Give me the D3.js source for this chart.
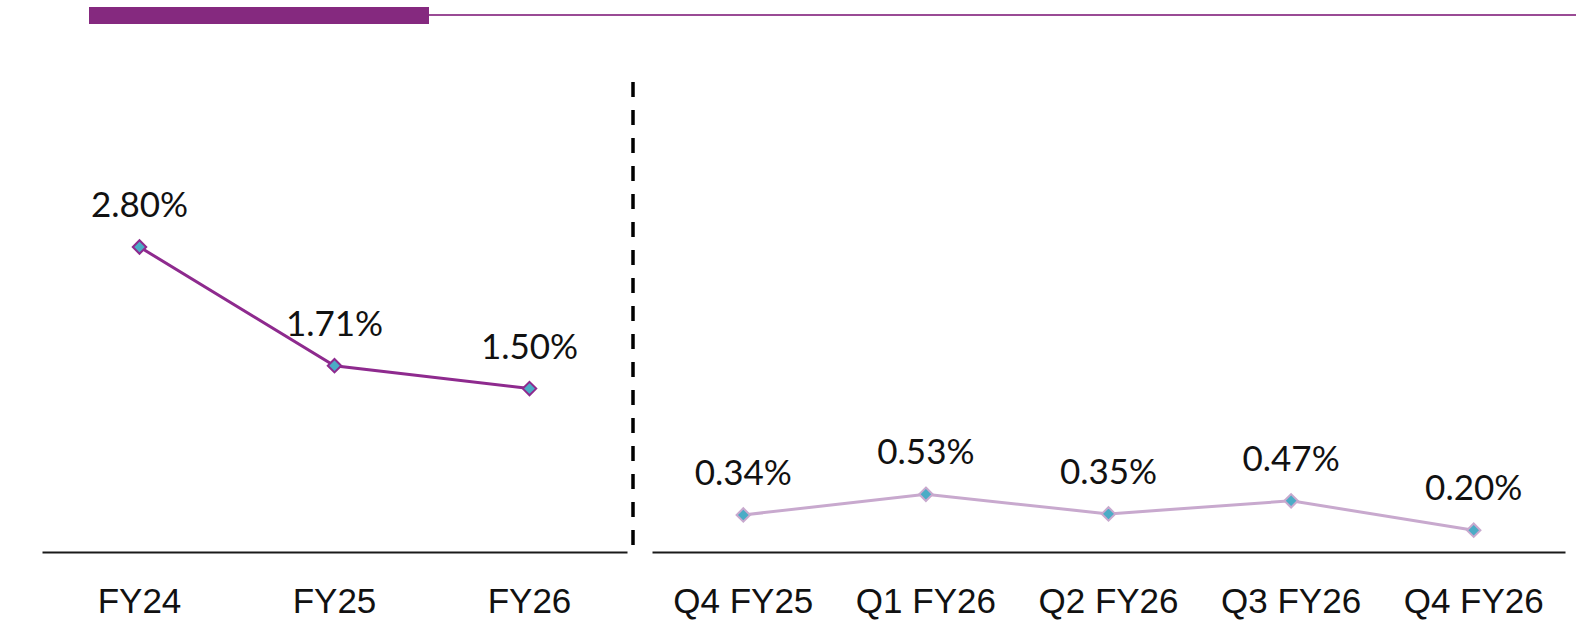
<!DOCTYPE html>
<html>
<head>
<meta charset="utf-8">
<script src="https://cdn.jsdelivr.net/npm/d3@7"></script>
<style>
  html, body { margin: 0; padding: 0; background: #fff; }
  svg { display: block; font-family: Lato, "Open Sans", sans-serif; }
</style>
</head>
<body>
<div id="chart"></div>
<script>
// annual values (left panel)
const yearCats = ["FY24", "FY25", "FY26"];
const yearVals = [2.80, 1.71, 1.50];
const yearLabels = ["2.80%", "1.71%", "1.50%"];

// quarterly values (right panel)
const qtrCats = ["Q4 FY25", "Q1 FY26", "Q2 FY26", "Q3 FY26", "Q4 FY26"];
const qtrVals = [0.34, 0.53, 0.35, 0.47, 0.20];
const qtrLabels = ["0.34%", "0.53%", "0.35%", "0.47%", "0.20%"];

const W = 1576, H = 623;
const baseY = 552;

const svg = d3.select("#chart").append("svg")
  .attr("width", W).attr("height", H);

// header bar
svg.append("line")
  .attr("x1", 429).attr("x2", W).attr("y1", 15).attr("y2", 15)
  .attr("stroke", "#9a4b95").attr("stroke-width", 2);
svg.append("rect")
  .attr("x", 89).attr("y", 7).attr("width", 340).attr("height", 17)
  .attr("fill", "#85297f");

// shared value scale
const y = d3.scaleLinear().domain([0, 2.80]).range([baseY, 247]);

function panel({ cats, vals, labels, x0, x1, lineColor, markerStroke }) {
  const x = d3.scaleBand().domain(cats).range([x0, x1]);
  const cx = (c) => x(c) + x.bandwidth() / 2;
  const g = svg.append("g");

  const axis = g.append("g")
    .attr("transform", `translate(0,${baseY})`)
    .call(d3.axisBottom(x).tickSize(0).tickPadding(36));
  axis.select(".domain").attr("stroke", "#1a1a1a").attr("stroke-width", 2);
  axis.selectAll("text")
    .attr("font-size", 35).attr("fill", "#111")
    .style("font-family", "'Liberation Sans', Arial, sans-serif")
    .attr("dy", "0.71em");

  const pts = cats.map((c, i) => [cx(c), y(vals[i])]);
  g.append("path")
    .attr("d", d3.line()(pts))
    .attr("fill", "none")
    .attr("stroke", lineColor)
    .attr("stroke-width", 3);

  g.selectAll("path.mk").data(pts).join("path")
    .attr("class", "mk")
    .attr("d", d3.symbol(d3.symbolDiamond2, 115)())
    .attr("transform", (d) => `translate(${d[0]},${d[1]})`)
    .attr("fill", "#4bacc6")
    .attr("stroke", markerStroke)
    .attr("stroke-width", 2);

  g.selectAll("text.val").data(pts).join("text")
    .attr("class", "val")
    .attr("x", (d) => d[0])
    .attr("y", (d) => d[1] - 30)
    .attr("text-anchor", "middle")
    .attr("font-size", 35)
    .attr("fill", "#111")
    .text((d, i) => labels[i]);
}

panel({ cats: yearCats, vals: yearVals, labels: yearLabels, x0: 42, x1: 627,
  lineColor: "#8e2a8e", markerStroke: "#8e2a8e" });
panel({ cats: qtrCats, vals: qtrVals, labels: qtrLabels, x0: 652, x1: 1565,
  lineColor: "#c8a9ce", markerStroke: "#c8a9ce" });

// separator
svg.append("line")
  .attr("x1", 633).attr("x2", 633).attr("y1", 82).attr("y2", 546)
  .attr("stroke", "#000").attr("stroke-width", 3.5)
  .attr("stroke-dasharray", "15 13");
</script>
</body>
</html>
